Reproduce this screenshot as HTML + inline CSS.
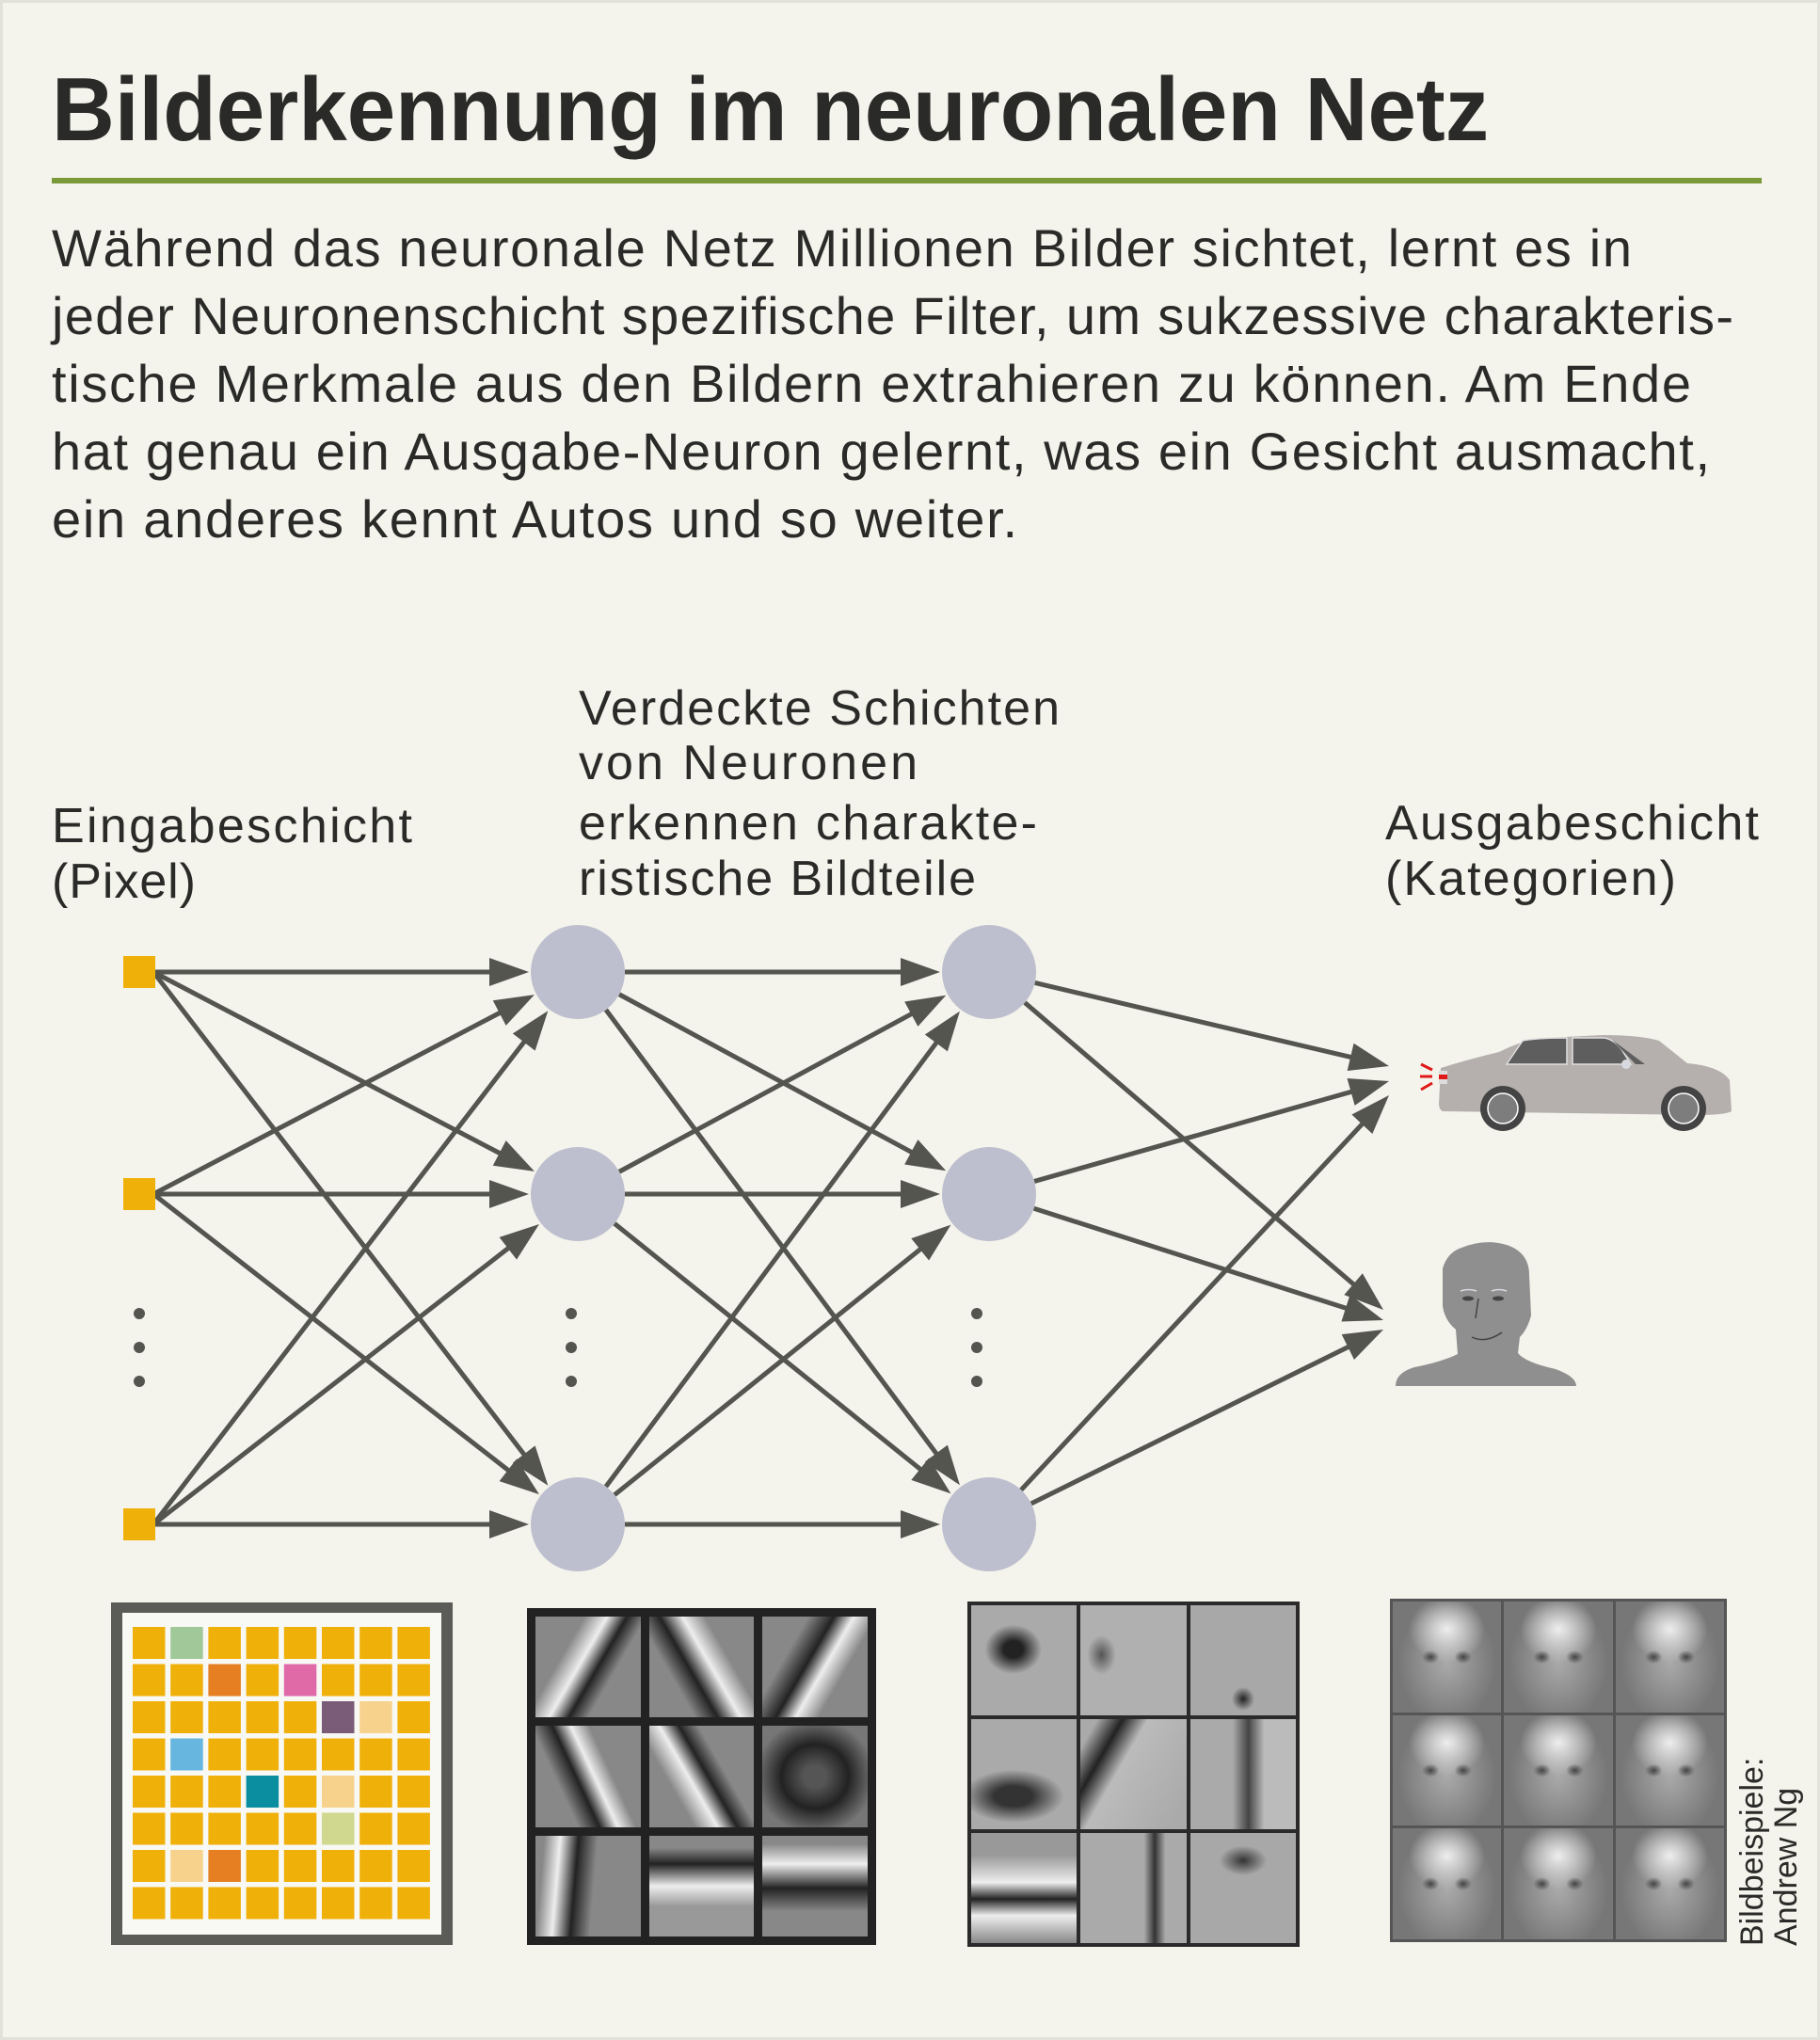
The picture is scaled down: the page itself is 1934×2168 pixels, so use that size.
<!DOCTYPE html>
<html><head><meta charset="utf-8">
<style>
html,body{margin:0;padding:0;background:#f4f4ec;}
#wrap{position:relative;width:1934px;height:2168px;overflow:hidden;background:#f4f4ec;box-sizing:border-box;border:3px solid #e2e2da;}
svg{position:absolute;left:0;top:0;}
.cell{position:absolute;}
</style></head>
<body><div id="wrap">
<svg id="s" width="1934" height="2168" viewBox="0 0 1934 2168" font-family="'Liberation Sans', sans-serif">
<text x="52" y="146" font-size="96" font-weight="bold" fill="#2a2a28" textLength="1527" lengthAdjust="spacingAndGlyphs">Bilderkennung im neuronalen Netz</text>
<rect x="52" y="186" width="1817" height="6" fill="#7a9a3a"/>
<g font-size="56" fill="#2a2a28" lengthAdjust="spacingAndGlyphs">
<text x="52" y="280" textLength="1679">Während das neuronale Netz Millionen Bilder sichtet, lernt es in</text>
<text x="52" y="352" textLength="1787">jeder Neuronenschicht spezifische Filter, um sukzessive charakteris-</text>
<text x="52" y="424" textLength="1742">tische Merkmale aus den Bildern extrahieren zu können. Am Ende</text>
<text x="52" y="496" textLength="1762">hat genau ein Ausgabe-Neuron gelernt, was ein Gesicht ausmacht,</text>
<text x="52" y="568" textLength="1026">ein anderes kennt Autos und so weiter.</text>
</g>
<g font-size="52" fill="#2a2a28" lengthAdjust="spacingAndGlyphs">
<text x="52" y="892" textLength="383">Eingabeschicht</text>
<text x="52" y="951" textLength="153">(Pixel)</text>
<text x="612" y="767" textLength="511">Verdeckte Schichten</text>
<text x="612" y="825" textLength="360">von Neuronen</text>
<text x="612" y="889" textLength="487">erkennen charakte-</text>
<text x="612" y="948" textLength="422">ristische Bildteile</text>
<text x="1469" y="889" textLength="397">Ausgabeschicht</text>
<text x="1469" y="948" textLength="309">(Kategorien)</text>
</g>
<g id="edges"></g>
<g fill="#f0b00a">
<rect x="128" y="1013" width="34" height="34"/>
<rect x="128" y="1249" width="34" height="34"/>
<rect x="128" y="1600" width="34" height="34"/>
</g>
<g fill="#bdbfcf">
<circle cx="611" cy="1030" r="50"/><circle cx="611" cy="1266" r="50"/><circle cx="611" cy="1617" r="50"/>
<circle cx="1048" cy="1030" r="50"/><circle cx="1048" cy="1266" r="50"/><circle cx="1048" cy="1617" r="50"/>
</g>
<g fill="#555550">
<circle cx="145" cy="1393" r="6"/><circle cx="145" cy="1429" r="6"/><circle cx="145" cy="1465" r="6"/>
<circle cx="604" cy="1393" r="6"/><circle cx="604" cy="1429" r="6"/><circle cx="604" cy="1465" r="6"/>
<circle cx="1035" cy="1393" r="6"/><circle cx="1035" cy="1429" r="6"/><circle cx="1035" cy="1465" r="6"/>
</g>
<!-- car -->
<g>
<path d="M1528 1132 Q1560 1122 1590 1115 Q1620 1100 1640 1100 L1700 1097 Q1740 1097 1760 1103 L1790 1127 Q1825 1130 1835 1145 L1837 1178 Q1830 1182 1800 1182 L1530 1178 Q1526 1176 1526 1170 Z" fill="#b5b0ad"/>
<path d="M1598 1128 L1615 1103 Q1630 1100 1662 1100 L1662 1128 Z" fill="#5e5e5e" stroke="#e0e0e0" stroke-width="1.5"/>
<path d="M1668 1128 L1668 1100 L1700 1100 Q1710 1100 1720 1112 L1730 1128 Z" fill="#5e5e5e" stroke="#e0e0e0" stroke-width="1.5"/>
<path d="M1710 1102 L1745 1128 L1735 1128 Z" fill="#5e5e5e"/>
<circle cx="1725" cy="1128" r="5" fill="#d8d8e0"/>
<rect x="1526" y="1135" width="9" height="14" fill="#ddd"/>
<rect x="1526" y="1139" width="9" height="5" fill="#e01818"/>
<g stroke="#e01818" stroke-width="3"><line x1="1507" y1="1128" x2="1519" y2="1134"/><line x1="1506" y1="1141" x2="1519" y2="1141"/><line x1="1507" y1="1155" x2="1519" y2="1148"/></g>
<circle cx="1594" cy="1175" r="24" fill="#444"/><circle cx="1594" cy="1175" r="16" fill="#7d7d7d" stroke="#fff" stroke-width="1.5"/>
<circle cx="1786" cy="1175" r="24" fill="#444"/><circle cx="1786" cy="1175" r="16" fill="#7d7d7d" stroke="#fff" stroke-width="1.5"/>
</g>
<!-- person -->
<g fill="#8f8f8f">
<path d="M1550 1323 Q1575 1313 1598 1320 Q1622 1328 1622 1352 L1624 1395 Q1620 1410 1612 1418 L1610 1435 Q1618 1445 1650 1452 Q1672 1460 1672 1470 L1480 1470 Q1480 1456 1500 1450 Q1530 1444 1546 1436 L1544 1410 Q1532 1400 1530 1385 L1530 1345 Q1535 1328 1550 1323 Z"/>
</g>
<g stroke="#444" stroke-width="1.5" fill="none">
<path d="M1561 1418 Q1576 1425 1593 1413"/><path d="M1568 1377 L1565 1398"/>
</g>
<g fill="#444"><ellipse cx="1557" cy="1377" rx="6" ry="2.5"/><ellipse cx="1589" cy="1377" rx="6" ry="2.5"/></g>
<g stroke="#d8d8e0" stroke-width="1.5" fill="none"><path d="M1549 1369 Q1557 1366 1566 1369"/><path d="M1582 1369 Q1590 1366 1598 1369"/></g>
<!-- pixel grid -->
<rect x="115" y="1700" width="363" height="364" fill="#5b5b58"/>
<rect x="127" y="1711" width="339" height="342" fill="#f8f8f4"/>
<g id="grid"></g>
<!-- filter frames -->
<rect x="557" y="1706" width="371" height="358" fill="#222"/>
<rect x="1025" y="1699" width="353" height="367" fill="#2a2a2a"/>
<rect x="1474" y="1696" width="358" height="365" fill="#555"/>
<text transform="translate(1870,2065) rotate(-90)" font-size="34" fill="#2a2a28">Bildbeispiele:</text>
<text transform="translate(1906,2065) rotate(-90)" font-size="34" fill="#2a2a28">Andrew Ng</text>
</svg>
<div id="cells"></div>
</div>
<script>
var NS="http://www.w3.org/2000/svg";
var E=document.getElementById('edges');
function arrow(x1,y1,x2,y2){
 var dx=x2-x1,dy=y2-y1,L=Math.sqrt(dx*dx+dy*dy),ux=dx/L,uy=dy/L;
 var hl=42,hw=15;
 var bx=x2-ux*hl,by=y2-uy*hl;
 var l=document.createElementNS(NS,'line');
 l.setAttribute('x1',x1);l.setAttribute('y1',y1);l.setAttribute('x2',bx+ux*4);l.setAttribute('y2',by+uy*4);
 l.setAttribute('stroke','#555550');l.setAttribute('stroke-width','5');E.appendChild(l);
 var p=document.createElementNS(NS,'polygon');
 p.setAttribute('points',x2+','+y2+' '+(bx-uy*hw)+','+(by+ux*hw)+' '+(bx+uy*hw)+','+(by-ux*hw));
 p.setAttribute('fill','#555550');E.appendChild(p);
}
var ys=[1030,1266,1617];
ys.forEach(function(a){ys.forEach(function(b){
 var dx=611-160,dy=b-a,L=Math.hypot(dx,dy);
 arrow(160,a,611-dx/L*52,b-dy/L*52);
 dx=1048-611;L=Math.hypot(dx,dy);
 arrow(611+dx/L*50,a+dy/L*50,1048-dx/L*52,b-dy/L*52);
});});
var outs=[[[1473,1130],[1473,1146],[1473,1161]],[[1467,1389],[1467,1400],[1467,1410]]];
ys.forEach(function(a,i){outs.forEach(function(os){
 var o=os[i];
 var dx=o[0]-1048,dy=o[1]-a,L=Math.hypot(dx,dy);
 arrow(1048+dx/L*50,a+dy/L*50,o[0],o[1]);
});});
var G=document.getElementById('grid');
var sp={"0,1":"#a0c898","1,2":"#e67e22","1,4":"#e06aa8","2,5":"#7a5c78","2,6":"#f7d28c","3,1":"#66b6e0","4,3":"#0a8ea0","4,5":"#f7d28c","5,5":"#cfd88e","6,1":"#f7d28c","6,2":"#e67e22"};
for(var r=0;r<8;r++)for(var c=0;c<8;c++){
 var q=document.createElementNS(NS,'rect');
 q.setAttribute('x',138+c*40.2);q.setAttribute('y',1726+r*39.5);q.setAttribute('width',34.5);q.setAttribute('height',34);
 q.setAttribute('fill',sp[r+","+c]||'#f0b00a');G.appendChild(q);
}
var C=document.getElementById('cells');
function cells(x0,y0,w,h,gap,bgs){
 var cw=(w-gap*4)/3,ch=(h-gap*4)/3;
 for(var i=0;i<9;i++){
  var d=document.createElement('div');d.className='cell';
  d.style.left=(x0+gap+(i%3)*(cw+gap))+'px';d.style.top=(y0+gap+Math.floor(i/3)*(ch+gap))+'px';
  d.style.width=cw+'px';d.style.height=ch+'px';d.style.background=bgs[i];C.appendChild(d);
 }
}
cells(557,1706,371,358,9,[
 "linear-gradient(120deg,#888 30%,#eee 44%,#222 56%,#888 68%)",
 "linear-gradient(60deg,#888 28%,#222 42%,#eee 56%,#888 70%)",
 "linear-gradient(120deg,#888 28%,#222 44%,#eee 56%,#888 70%)",
 "linear-gradient(65deg,#888 28%,#222 42%,#eee 54%,#888 66%)",
 "linear-gradient(60deg,#888 28%,#eee 42%,#222 54%,#888 66%)",
 "radial-gradient(ellipse at center,#555 15%,#222 45%,#777 80%)",
 "linear-gradient(95deg,#888 8%,#eee 22%,#222 38%,#888 55%)",
 "linear-gradient(180deg,#888 12%,#222 28%,#eee 50%,#999 70%)",
 "linear-gradient(180deg,#888 8%,#eee 28%,#222 52%,#888 75%)"]);
cells(1025,1699,353,367,4,[
 "radial-gradient(ellipse 30% 25% at 40% 40%,#222 30%,#aaa 90%),#aaa",
 "radial-gradient(ellipse 15% 20% at 20% 45%,#555,#b0b0b0 90%)",
 "radial-gradient(ellipse 12% 12% at 50% 85%,#222,#a8a8a8 90%)",
 "radial-gradient(ellipse 60% 30% at 40% 70%,#333 30%,#aaa 80%)",
 "linear-gradient(120deg,#aaa 10%,#222 25%,#bbb 40%,#aaa 90%)",
 "linear-gradient(90deg,#aaa 40%,#444 55%,#bbb 70%)",
 "linear-gradient(180deg,#999 20%,#eee 45%,#222 60%,#eee 75%,#888)",
 "linear-gradient(90deg,#aaa 60%,#333 70%,#aaa 80%)",
 "radial-gradient(ellipse 25% 15% at 50% 25%,#333,#a8a8a8 90%)"]);
var face="radial-gradient(ellipse 8% 6% at 35% 50%,#444,transparent),radial-gradient(ellipse 8% 6% at 65% 50%,#444,transparent),radial-gradient(ellipse 35% 30% at 50% 25%,#eee,transparent),radial-gradient(ellipse 45% 55% at 50% 55%,#aaa,#777)";
cells(1474,1696,358,365,3,[face,face,face,face,face,face,face,face,face]);
</script>
</body></html>
